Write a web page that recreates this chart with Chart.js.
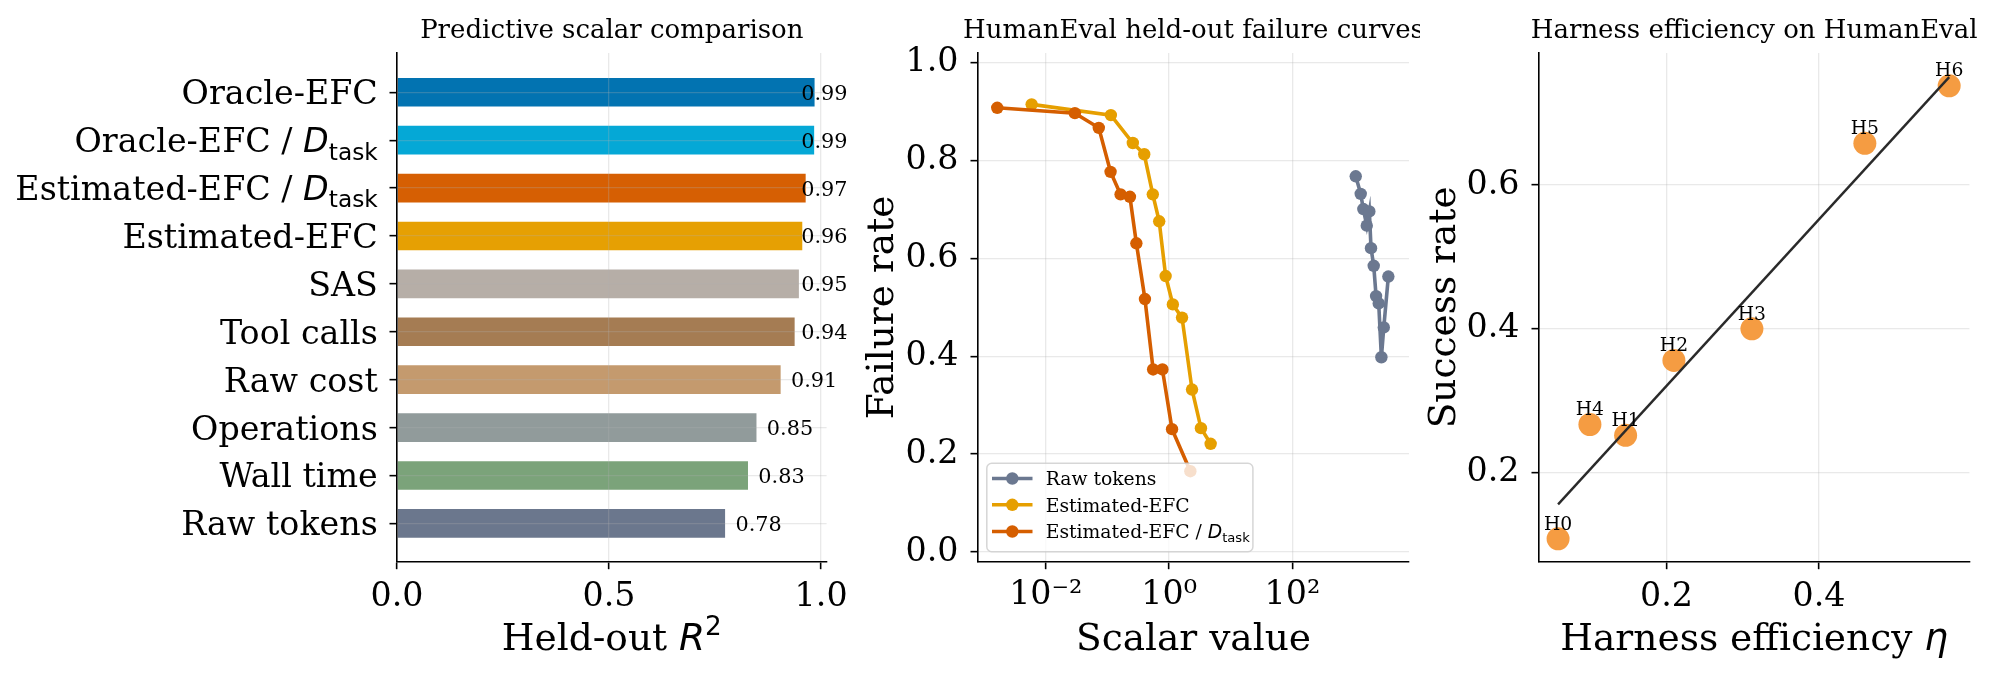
<!DOCTYPE html>
<html lang="en">
<head>
<meta charset="UTF-8">
<title>EFC scalar comparison</title>
<script src="https://cdn.jsdelivr.net/npm/chart.js"></script>
<style>
  body { margin: 0; background: #fff; }
  .wrap { position: relative; width: 2000px; height: 681px; }
  canvas { position: absolute; top: 0; }
  #bars { left: 0; }
  #curves { left: 860px; }
  #harness { left: 1420px; }
</style>
</head>
<body>
<div class="wrap">
  <canvas id="bars" width="860" height="681"></canvas>
  <canvas id="curves" width="560" height="681"></canvas>
  <canvas id="harness" width="580" height="681"></canvas>
</div>
<script>
// --- panel 1: held-out R2 per scalar
const scalarNames = ['Oracle-EFC', 'Oracle-EFC / D_task', 'Estimated-EFC / D_task', 'Estimated-EFC', 'SAS',
                     'Tool calls', 'Raw cost', 'Operations', 'Wall time', 'Raw tokens'];
const scalarR2 = [0.987, 0.986, 0.966, 0.958, 0.950, 0.940, 0.907, 0.850, 0.830, 0.776];
const scalarColors = ['#0273b1', '#05a8d6', '#d65f03', '#e6a003', '#b6aea7',
                      '#a57c53', '#c49a6e', '#919b9b', '#7ba37a', '#6b778d'];
const r2Ticks = [0, 0.5, 1.0];

// --- panel 2: HumanEval held-out failure curves
const curveNames = ['Raw tokens', 'Estimated-EFC', 'Estimated-EFC / D_task'];
const curveColors = ['#6b7890', '#e69f00', '#d55e00'];
const rawTokX = [1062, 1279, 1409, 1603, 1766, 1879, 2080, 2270, 2506, 2767, 3027, 3589];
const rawTokY = [0.768, 0.732, 0.701, 0.667, 0.696, 0.621, 0.585, 0.523, 0.508, 0.398, 0.459, 0.563];
const estEfcX = [0.00589, 0.1135, 0.2576, 0.3945, 0.543, 0.690, 0.877, 1.148, 1.618, 2.35, 3.28, 4.71];
const estEfcY = [0.915, 0.893, 0.836, 0.813, 0.731, 0.676, 0.564, 0.506, 0.479, 0.332, 0.253, 0.221];
const estEfcDX = [0.00163, 0.0296, 0.0723, 0.1122, 0.163, 0.231, 0.294, 0.405, 0.550, 0.778, 1.114, 2.208];
const estEfcDY = [0.908, 0.897, 0.867, 0.777, 0.731, 0.726, 0.631, 0.517, 0.373, 0.373, 0.251, 0.165];
const scalarTicks = [0.01, 1, 100];
const failTicks = [0, 0.2, 0.4, 0.6, 0.8, 1.0];

// --- panel 3: harness efficiency
const harnessNames = ['H0', 'H1', 'H2', 'H3', 'H4', 'H5', 'H6'];
const harnessEta = [0.058, 0.1465, 0.2098, 0.312, 0.0997, 0.460, 0.5705];
const harnessSuccess = [0.108, 0.252, 0.356, 0.400, 0.267, 0.658, 0.738];
const fitEta = [0.058, 0.5705];
const fitSuccess = [0.156, 0.750];
const etaTicks = [0.2, 0.4];
const successTicks = [0.2, 0.4, 0.6];

Chart.defaults.font.family = '"DejaVu Serif"';
Chart.defaults.color = '#000';

const SERIF = '"DejaVu Serif"';
const SANS = '"DejaVu Sans"';
const gridColor = 'rgba(176,176,176,0.28)';
const TICK = 33.3, LABEL = 37.5, TITLE = 26, SMALL = 18.75;
const tickFont = { family: SERIF, size: TICK };

// text made of pieces in different fonts (matplotlib mathtext bits)
function richWidth(ctx, parts) {
  let w = 0;
  parts.forEach(p => { ctx.font = p.font; w += ctx.measureText(p.text).width; });
  return w;
}
function drawRich(ctx, parts, x, y, align) {
  const w = richWidth(ctx, parts);
  let cx = align === 'right' ? x - w : align === 'center' ? x - w / 2 : x;
  ctx.textAlign = 'left';
  ctx.textBaseline = 'alphabetic';
  parts.forEach(p => {
    ctx.font = p.font;
    ctx.fillText(p.text, cx, y + (p.dy || 0));
    cx += ctx.measureText(p.text).width;
  });
}
function nameParts(name, size) {
  if (name.endsWith(' / D_task')) {
    return [
      { text: name.replace('D_task', ''), font: `${size}px ${SERIF}` },
      { text: 'D', font: `italic ${size}px ${SANS}` },
      { text: 'task', font: `${size * 0.7}px ${SANS}`, dy: size * 0.22 }
    ];
  }
  return [{ text: name, font: `${size}px ${SERIF}` }];
}
function drawTitle(chart, text) {
  const { ctx, chartArea } = chart;
  ctx.save();
  ctx.fillStyle = '#000';
  drawRich(ctx, [{ text, font: `${TITLE}px ${SERIF}` }], (chartArea.left + chartArea.right) / 2, 37.5, 'center');
  ctx.restore();
}
function drawYTitle(chart, parts, x) {
  const { ctx, chartArea } = chart;
  ctx.save();
  ctx.fillStyle = '#000';
  ctx.translate(x, (chartArea.top + chartArea.bottom) / 2);
  ctx.rotate(-Math.PI / 2);
  drawRich(ctx, parts, 0, 0, 'center');
  ctx.restore();
}
function gridStyle(z) {
  return { color: gridColor, lineWidth: 1.3, tickLength: 7.5, tickWidth: 1.6, tickColor: '#000', offset: false, z: z || 0 };
}
function axisStyle(extra, z) {
  return Object.assign({
    offset: false,
    grid: gridStyle(z),
    border: { color: '#000', width: 1.6, z: z || 0 },
    ticks: { font: tickFont, color: '#000', maxRotation: 0, autoSkip: false }
  }, extra);
}
const baseOptions = {
  responsive: false,
  animation: false,
  events: [],
  plugins: { legend: { display: false }, tooltip: { enabled: false } }
};

// ---------------- panel 1 ----------------
const barsText = {
  id: 'barsText',
  afterDraw(chart) {
    const { ctx, chartArea, scales } = chart;
    ctx.save();
    ctx.fillStyle = '#000';
    scalarNames.forEach((name, i) => {
      const y = scales.y.getPixelForValue(i);
      drawRich(ctx, nameParts(name, TICK), chartArea.left - 7.5 - 11.7, y + 12, 'right');
      const v = scalarR2[i];
      const x = scales.x.getPixelForValue(Math.min(v + 0.022, 0.953));
      drawRich(ctx, [{ text: v.toFixed(2), font: `20.8px ${SERIF}` }], x, y + 7.5, 'left');
    });
    drawRich(ctx, [
      { text: 'Held-out ', font: `${LABEL}px ${SERIF}` },
      { text: 'R', font: `italic ${LABEL}px ${SANS}` },
      { text: '2', font: `${LABEL * 0.7}px ${SANS}`, dy: -LABEL * 0.4 }
    ], (chartArea.left + chartArea.right) / 2, 650, 'center');
    ctx.restore();
    drawTitle(chart, 'Predictive scalar comparison');
  }
};

new Chart(document.getElementById('bars'), {
  type: 'bar',
  data: {
    datasets: [{
      data: scalarR2.map((v, i) => ({ x: v, y: i })),
      backgroundColor: scalarColors,
      borderColor: 'rgba(255,255,255,0.7)',
      borderWidth: 1,
      categoryPercentage: 1,
      barPercentage: 0.64
    }]
  },
  options: Object.assign({}, baseOptions, {
    indexAxis: 'y',
    layout: { padding: { top: 53, right: 33.4, left: 0, bottom: 0 } },
    scales: {
      x: axisStyle({
        type: 'linear', min: 0, max: 1.013,
        afterBuildTicks: s => { s.ticks = r2Ticks.map(v => ({ value: v })); },
        afterFit: s => { s.height = 119.3; },
        ticks: { font: tickFont, color: '#000', padding: 8, maxRotation: 0, autoSkip: false,
                 callback: v => v.toFixed(1) }
      }, 1),
      y: axisStyle({
        type: 'linear', reverse: true, min: -0.82, max: 9.8,
        afterBuildTicks: s => { s.ticks = scalarNames.map((n, i) => ({ value: i })); },
        afterFit: s => { s.width = 397; },
        ticks: { callback: () => '' }
      }, 1)
    }
  }),
  plugins: [barsText]
});

// ---------------- panel 2 ----------------
const curveSeries = [
  { x: rawTokX, y: rawTokY },
  { x: estEfcX, y: estEfcY },
  { x: estEfcDX, y: estEfcDY }
];
const supDigits = { '-': '\u207b', '0': '\u2070', '1': '\u00b9', '2': '\u00b2', '3': '\u00b3' };
const curvesText = {
  id: 'curvesText',
  afterDraw(chart) {
    const { ctx, chartArea } = chart;
    ctx.save();
    ctx.fillStyle = '#000';
    drawRich(ctx, [{ text: 'Scalar value', font: `${LABEL}px ${SERIF}` }], (chartArea.left + chartArea.right) / 2, 650, 'center');
    // legend
    const bx = 126.8, by = 463.3, bw = 266.1, bh = 88.4;
    ctx.beginPath();
    ctx.roundRect(bx, by, bw, bh, 5);
    ctx.fillStyle = 'rgba(255,255,255,0.8)';
    ctx.fill();
    ctx.strokeStyle = 'rgba(204,204,204,0.8)';
    ctx.lineWidth = 1.5;
    ctx.stroke();
    const rows = [478.5, 504.8, 531.5];
    curveNames.forEach((name, i) => {
      const y = rows[i];
      ctx.strokeStyle = curveColors[i];
      ctx.lineWidth = 3.6;
      ctx.beginPath();
      ctx.moveTo(132, y);
      ctx.lineTo(172.5, y);
      ctx.stroke();
      ctx.fillStyle = curveColors[i];
      ctx.beginPath();
      ctx.arc(152.3, y, 6.2, 0, Math.PI * 2);
      ctx.fill();
      ctx.fillStyle = '#000';
      drawRich(ctx, nameParts(name, SMALL), 185.7, y + 6.8, 'left');
    });
    ctx.restore();
    drawYTitle(chart, [{ text: 'Failure rate', font: `${LABEL}px ${SERIF}` }], 33);
    drawTitle(chart, 'HumanEval held-out failure curves');
  }
};

new Chart(document.getElementById('curves'), {
  type: 'line',
  data: {
    datasets: curveSeries.map((s, i) => ({
      data: s.x.map((x, j) => ({ x, y: s.y[j] })),
      borderColor: curveColors[i],
      backgroundColor: curveColors[i],
      borderWidth: 3.6,
      pointRadius: 6.2,
      pointBorderWidth: 0,
      tension: 0,
      fill: false,
      order: 3 - i
    }))
  },
  options: Object.assign({}, baseOptions, {
    layout: { padding: { top: 53, right: 560 - 549, left: 0, bottom: 0 } },
    scales: {
      x: axisStyle({
        type: 'logarithmic', min: Math.pow(10, -3.10), max: Math.pow(10, 3.89),
        afterBuildTicks: s => { s.ticks = scalarTicks.map(v => ({ value: v })); },
        afterFit: s => { s.height = 119.3; },
        ticks: { font: tickFont, color: '#000', padding: 6, maxRotation: 0, autoSkip: false,
                 callback: v => '10' + String(Math.round(Math.log10(v))).split('').map(c => supDigits[c]).join('') }
      }),
      y: axisStyle({
        type: 'linear', min: -0.02, max: 1.02,
        afterBuildTicks: s => { s.ticks = failTicks.map(v => ({ value: v })); },
        afterFit: s => { s.width = 118; },
        ticks: { font: tickFont, color: '#000', padding: 12, callback: v => v.toFixed(1) }
      })
    }
  }),
  plugins: [curvesText]
});

// ---------------- panel 3 ----------------
const harnessText = {
  id: 'harnessText',
  afterDraw(chart) {
    const { ctx, chartArea, scales } = chart;
    ctx.save();
    ctx.fillStyle = '#000';
    harnessNames.forEach((n, i) => {
      const x = scales.x.getPixelForValue(harnessEta[i]);
      const y = scales.y.getPixelForValue(harnessSuccess[i]);
      drawRich(ctx, [{ text: n, font: `${SMALL}px ${SERIF}` }], x, y - 9.3, 'center');
    });
    drawRich(ctx, [
      { text: 'Harness efficiency ', font: `${LABEL}px ${SERIF}` },
      { text: '\u03b7', font: `italic ${LABEL}px ${SANS}` }
    ], (chartArea.left + chartArea.right) / 2, 650, 'center');
    ctx.restore();
    drawYTitle(chart, [{ text: 'Success rate', font: `${LABEL}px ${SERIF}` }], 35);
    drawTitle(chart, 'Harness efficiency on HumanEval');
  }
};

new Chart(document.getElementById('harness'), {
  type: 'scatter',
  data: {
    datasets: [
      {
        data: fitEta.map((x, j) => ({ x, y: fitSuccess[j] })),
        showLine: true,
        borderColor: '#2a2a2a',
        borderWidth: 2.4,
        pointRadius: 0
      },
      {
        data: harnessEta.map((x, j) => ({ x, y: harnessSuccess[j] })),
        backgroundColor: '#f59c42',
        borderWidth: 0,
        pointRadius: 11.5
      }
    ]
  },
  options: Object.assign({}, baseOptions, {
    layout: { padding: { top: 53, right: 580 - 549.4, left: 0, bottom: 0 } },
    scales: {
      x: axisStyle({
        type: 'linear', min: 0.033, max: 0.597,
        afterBuildTicks: s => { s.ticks = etaTicks.map(v => ({ value: v })); },
        afterFit: s => { s.height = 119.3; },
        ticks: { font: tickFont, color: '#000', padding: 8, maxRotation: 0, autoSkip: false, callback: v => v.toFixed(1) }
      }),
      y: axisStyle({
        type: 'linear', min: 0.0762, max: 0.7836,
        afterBuildTicks: s => { s.ticks = successTicks.map(v => ({ value: v })); },
        afterFit: s => { s.width = 119; },
        ticks: { font: tickFont, color: '#000', padding: 12, callback: v => v.toFixed(1) }
      })
    }
  }),
  plugins: [harnessText]
});
</script>
</body>
</html>
